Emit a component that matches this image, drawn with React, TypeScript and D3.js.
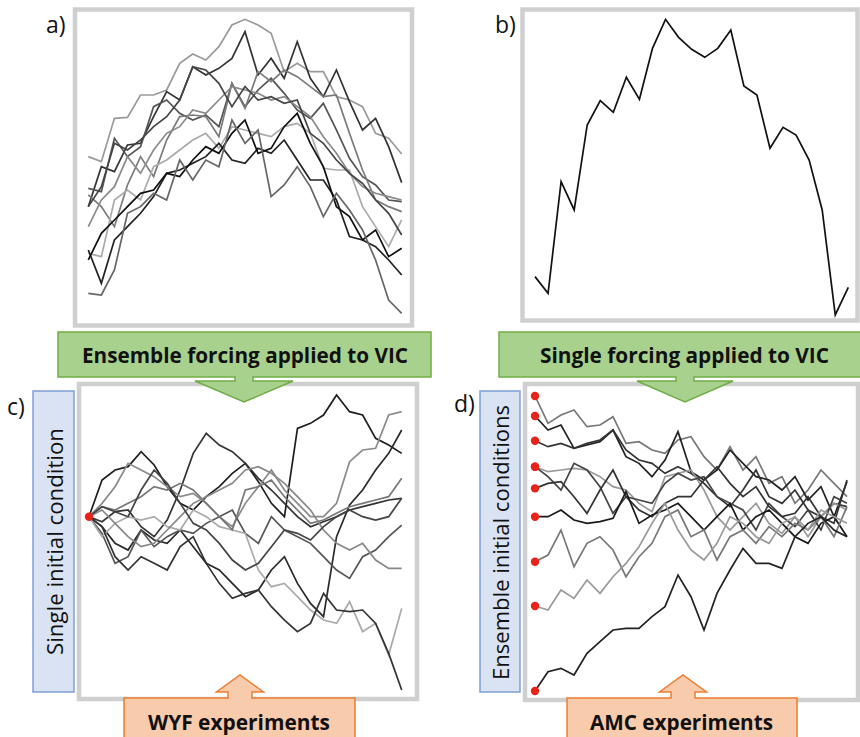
import React from "react";
import * as d3 from "d3";

// Values. Each trace has 25 steps, y in arbitrary 0-100(110) units.

// a) ensemble forcing traces
const seriesA = [
  [53, 51.5, 64.5, 64.8, 71.5, 71.5, 73, 81, 83.8, 82, 86, 92.5, 94.2, 92.5, 90, 78.5, 81, 78.5, 78.5, 71, 70, 68, 60, 58.5, 53.8],
  [38, 50, 48.5, 56.5, 57, 65, 72.5, 70, 80, 77.5, 79.5, 82.5, 90.5, 77.5, 82.5, 76.5, 87.5, 76.5, 71, 79, 69.5, 61, 64.5, 56, 45.2],
  [43.5, 42.5, 58.5, 53, 56, 68, 70, 66, 64, 65.5, 62, 75, 68, 73, 76.5, 72, 67, 64.5, 69, 61, 52.5, 47, 44.5, 40, 39.5],
  [41.5, 38, 32, 44.5, 53, 47, 58, 65, 65.5, 65, 59, 75, 67.5, 78.5, 75.5, 79, 77, 74, 71, 71.5, 60, 49, 40, 38, 36.5],
  [24, 23, 40, 43, 40, 50, 52, 55, 58, 60, 55.5, 62, 61, 60, 59, 62, 63, 60, 49.5, 49, 49, 38, 32, 26, 34],
  [25, 15, 28, 32, 36, 41, 48, 49, 51, 53, 57, 52, 51, 55.5, 54, 58, 52, 46, 46, 40, 29, 28, 26, 22, 17.5],
  [22, 30, 34, 38, 42, 43, 48, 47, 52, 56, 54, 60, 64, 54, 55.5, 62, 66, 57, 50, 38, 35, 28, 31, 23, 25.5],
  [12, 11.5, 19, 36, 38, 42, 40, 52, 46, 52, 50, 64, 57, 61, 41, 44.5, 50, 44, 35, 42, 37, 31, 22, 10, 6],
  [32, 40, 44, 53, 48, 55, 60, 62, 67, 66, 70, 74, 73, 72, 70, 71, 68, 65, 59, 54, 48, 44, 42, 41, 40],
  [38, 44, 57, 55, 58, 62, 65, 70, 80, 79, 75, 68, 74, 70, 71, 69, 70, 60, 57, 52, 48, 45, 40, 36, 29.5],
];
const greysA = ["#9a9a9a", "#333", "#555", "#7a7a7a", "#aaa", "#222", "#111", "#666", "#8a8a8a", "#444"];

// b) single forcing trace
const seriesB = [17, 12, 45.5, 37, 62.5, 69.8, 66.3, 76.8, 70.2, 85.5, 94.2, 88.8, 85.2, 82.8, 85.5, 91, 74.2, 71.5, 55.5, 61.8, 59.5, 52, 37, 5.5, 13.8];

// c) single initial condition, ensemble forcing
const seriesC = [
  [54, 65, 68, 69, 73.5, 69.5, 63, 58, 56, 60, 63, 67, 70, 64.5, 58, 54, 80.5, 82, 84.5, 90.5, 85.5, 84.5, 77.5, 75.5, 73],
  [54, 52.5, 55.5, 56, 51, 48, 53, 62, 73, 79, 75.5, 73.5, 70, 65.5, 62, 58, 54, 51, 52.5, 54, 56, 57, 58, 59, 59.5],
  [54, 58, 63, 70, 68, 66, 63, 60, 61, 58, 54, 51, 58, 63, 68, 62, 58, 54, 54, 58, 70.5, 74, 74.5, 84.5, 85.5],
  [54, 51, 46, 44, 50, 47, 46, 50, 45, 40, 38, 34, 30, 32, 38, 42, 34, 28, 24, 48, 57.5, 62, 68, 73, 80],
  [54, 49, 40, 42, 50, 45, 48, 50, 49, 52, 54, 56, 49, 46, 54, 50, 48, 46, 42, 38, 35.5, 42, 44, 48, 51.5],
  [54, 48, 52, 54, 53, 54, 51, 50, 56, 54, 51, 50, 49, 38, 33, 34, 30, 26, 23, 22, 28.5, 19.5, 22, 12.5, 26.5],
  [54, 51, 42, 38, 42, 40, 38, 45, 48, 40, 34, 29.5, 31, 32, 27, 23, 19.5, 22, 31, 26, 25.5, 26, 22, 13, 2],
  [54, 57, 56, 58, 60, 63, 62, 64, 62, 58, 54, 50, 62, 63, 65, 60, 56, 52, 53, 55, 57, 58, 59, 60, 65.5],
  [54, 56, 52, 48, 45, 46, 50, 54, 58, 60, 62, 64, 68, 69, 67, 64, 60, 56, 50, 46, 44, 46, 41, 38.5, 38.5],
  [54, 57, 55.5, 54, 62, 68, 64, 58, 52, 50, 46, 41, 38, 40, 45, 50, 49, 47, 51, 54, 56, 54, 53, 54, 59.5],
];
const greysC = ["#1e1e1e", "#333", "#8a8a8a", "#2a2a2a", "#555", "#aaa", "#333", "#777", "#888", "#444"];

// d) ensemble initial conditions, single forcing
const seriesD = [
  [90.2, 82, 84.5, 86, 81, 81.5, 84, 76, 76.5, 74, 73, 77, 78, 72, 68, 75, 68, 72, 64, 66, 58, 62, 68, 64, 60],
  [84.2, 80, 81.5, 74.5, 75.5, 76.5, 80, 72, 70, 66, 71, 79.5, 67.5, 65, 68, 74, 70, 66, 65, 62, 66, 59, 63, 54, 64.5],
  [76.8, 75, 76, 74.5, 76, 77, 80, 74, 71, 70, 67, 69, 67, 64, 60, 57, 62, 68, 60, 58, 62, 56, 54, 58, 57],
  [69, 67.5, 68, 68.5, 68, 66, 63, 62, 58, 55.5, 66, 67, 68, 62, 54, 50, 54, 58, 52, 49, 54, 48, 54, 58, 56],
  [69, 66, 62, 70, 68, 63, 55, 60, 59, 58, 64, 67, 65, 66, 60, 58, 56, 50, 58, 54, 51, 56, 50, 60, 58],
  [62.5, 64, 64.5, 60, 55, 62, 68, 60, 56, 54, 58, 60, 60, 65, 69, 64, 60, 63, 57, 54, 55, 60, 54, 52, 65],
  [54, 54, 56, 53, 52, 52.5, 53.5, 61.5, 52, 54.5, 56, 58, 54, 50, 54, 58, 50, 54, 56, 52, 48, 46, 52, 54, 48],
  [40.5, 42.5, 50, 39, 46, 48, 44, 36, 42, 46, 54, 56, 48, 50, 41, 48, 50, 46, 51, 48, 52, 50, 54, 48, 57],
  [27.2, 26, 32, 29.5, 35, 31, 36, 40, 45, 52, 58, 50, 44, 41, 46, 54, 52, 48, 46, 52, 54, 50, 56, 54, 52],
  [1.7, 7.5, 8.5, 6.5, 13, 16.5, 20, 20.5, 20.5, 24, 27, 36.5, 30, 20, 31, 38, 44.5, 40, 40, 38.5, 48, 52, 54, 50, 48],
];
const greysD = ["#777", "#222", "#333", "#999", "#444", "#333", "#1a1a1a", "#777", "#9a9a9a", "#222"];

const panelLabels = ["a)", "b)", "c)", "d)"];
const forcingLabels = ["Ensemble forcing applied to VIC", "Single forcing applied to VIC"];
const experimentLabels = ["WYF experiments", "AMC experiments"];
const initLabels = ["Single initial condition", "Ensemble initial conditions"];

const FONT = "'Open Sans', sans-serif";
const FRAME = "#cfcfcf";

// callout with arrow pointing down from the bottom edge
function downCallout(x0: number, x1: number, y0: number, y1: number, cx: number, tri: number) {
  const neck = 9;
  const ny = y1 + 4;
  const tip = y1 + 25;
  return `M${x0},${y0}H${x1}V${y1}H${cx + neck}V${ny}H${cx + tri}L${cx},${tip}L${cx - tri},${ny}H${cx - neck}V${y1}H${x0}Z`;
}

// callout with arrow pointing up from the top edge
function upCallout(x0: number, x1: number, y0: number, y1: number, cx: number) {
  const neck = 12;
  const tri = 23.5;
  const ny = y0 - 6;
  const tip = y0 - 23;
  return `M${x0},${y0}H${cx - neck}V${ny}H${cx - tri}L${cx},${tip}L${cx + tri},${ny}H${cx + neck}V${y0}H${x1}V${y1}H${x0}Z`;
}

function Traces(props: { data: number[][]; colors: string[]; x: d3.ScaleLinear<number, number>; y: d3.ScaleLinear<number, number> }) {
  const line = d3.line<number>().x((d, i) => props.x(i)).y((d) => props.y(d));
  return (
    <g fill="none" strokeWidth={1.7} strokeLinejoin="miter">
      {props.data.map((s, i) => (
        <path key={i} d={line(s) || ""} stroke={props.colors[i % props.colors.length]} />
      ))}
    </g>
  );
}

export default function App() {
  const steps = [0, 24];
  const xA = d3.scaleLinear().domain(steps).range([88.3, 401.7]);
  const yA = d3.scaleLinear().domain([0, 100]).range([333.3, 0]);
  const xB = d3.scaleLinear().domain(steps).range([535, 848.3]);
  const xC = d3.scaleLinear().domain(steps).range([89, 401.7]);
  const yC = d3.scaleLinear().domain([0, 110]).range([696.7, 330]);
  const xD = d3.scaleLinear().domain(steps).range([535, 847]);

  const lineB = d3.line<number>().x((d, i) => xB(i)).y((d) => yA(d));

  return (
    <svg width={860} height={737} style={{ position: "absolute", left: 0, top: 0, background: "#fff" }} fontFamily={FONT}>
      {/* top frames */}
      <rect x={75} y={9.5} width={337} height={316} fill="#fff" stroke={FRAME} strokeWidth={4.5} />
      <rect x={522.5} y={9.5} width={335} height={311} fill="#fff" stroke={FRAME} strokeWidth={4.5} />
      <Traces data={seriesA} colors={greysA} x={xA} y={yA} />
      <path d={lineB(seriesB) || ""} fill="none" stroke="#111" strokeWidth={1.7} />

      {/* bottom frames */}
      <rect x={79} y={384} width={338} height={315} fill="#fff" stroke={FRAME} strokeWidth={4.5} />
      <rect x={525} y={384} width={333} height={316} fill="#fff" stroke={FRAME} strokeWidth={4.5} />
      <Traces data={seriesC} colors={greysC} x={xC} y={yC} />
      <Traces data={seriesD} colors={greysD} x={xD} y={yC} />

      {/* initial condition markers */}
      <circle cx={xC(0)} cy={yC(seriesC[0][0])} r={4.2} fill="#e8231a" />
      {seriesD.map((s, i) => (
        <circle key={i} cx={xD(0)} cy={yC(s[0])} r={4.2} fill="#e8231a" />
      ))}

      {/* forcing callouts */}
      <path d={downCallout(58, 431, 332, 377, 244, 49)} fill="#a9d18e" stroke="#70ad47" strokeWidth={1.5} />
      <path d={downCallout(499, 875, 332, 377, 685, 48)} fill="#a9d18e" stroke="#70ad47" strokeWidth={1.5} />
      <text x={82} y={363} fontSize={21} fontWeight="bold" textLength={326} lengthAdjust="spacingAndGlyphs" fill="#111">
        {forcingLabels[0]}
      </text>
      <text x={540} y={363} fontSize={21} fontWeight="bold" textLength={289} lengthAdjust="spacingAndGlyphs" fill="#111">
        {forcingLabels[1]}
      </text>

      {/* experiment callouts */}
      <path d={upCallout(124, 355, 698, 750, 240)} fill="#f8cbad" stroke="#ed7d31" strokeWidth={1.5} />
      <path d={upCallout(567, 797, 698, 750, 683)} fill="#f8cbad" stroke="#ed7d31" strokeWidth={1.5} />
      <text x={148} y={730} fontSize={22} fontWeight="bold" textLength={182} lengthAdjust="spacingAndGlyphs" fill="#111">
        {experimentLabels[0]}
      </text>
      <text x={590} y={730} fontSize={22} fontWeight="bold" textLength={183} lengthAdjust="spacingAndGlyphs" fill="#111">
        {experimentLabels[1]}
      </text>

      {/* initial condition boxes */}
      <rect x={33} y={391} width={41} height={301} fill="#dae3f3" stroke="#7f9fd6" strokeWidth={1.5} />
      <rect x={480} y={391} width={40} height={301} fill="#dae3f3" stroke="#7f9fd6" strokeWidth={1.5} />
      <text transform="translate(63,655) rotate(-90)" fontSize={22} fontWeight={500} textLength={227} lengthAdjust="spacingAndGlyphs" fill="#111">
        {initLabels[0]}
      </text>
      <text transform="translate(509,680) rotate(-90)" fontSize={22} fontWeight={500} textLength={275} lengthAdjust="spacingAndGlyphs" fill="#111">
        {initLabels[1]}
      </text>

      {/* panel letters */}
      <text x={46} y={33} fontSize={23} fill="#111">{panelLabels[0]}</text>
      <text x={495} y={33} fontSize={23} fill="#111">{panelLabels[1]}</text>
      <text x={7} y={415} fontSize={23} fill="#111">{panelLabels[2]}</text>
      <text x={454} y={412} fontSize={23} fill="#111">{panelLabels[3]}</text>
    </svg>
  );
}
